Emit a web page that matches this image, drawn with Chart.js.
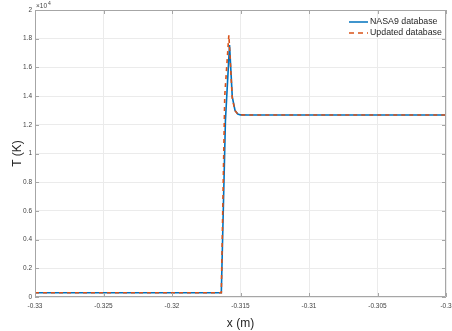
<!DOCTYPE html>
<html>
<head>
<meta charset="utf-8">
<script src="https://cdn.jsdelivr.net/npm/chart.js@4.4.1/dist/chart.umd.min.js"></script>
<style>
  html, body { margin: 0; padding: 0; background: #fff; }
  #chart { display: block; }
</style>
</head>
<body>
<canvas id="chart" width="452" height="331"></canvas>
<script>
// series (x in m, T in K)
const nasaX = [-0.33, -0.3164, -0.3161, -0.3158, -0.3156, -0.3154, -0.3152, -0.3150, -0.3145, -0.30];
const nasaT = [300, 300, 12300, 17550, 13950, 13000, 12750, 12690, 12680, 12680];
const updX = [-0.33, -0.3164, -0.31615, -0.31585, -0.3156, -0.3154, -0.3152, -0.3150, -0.3145, -0.30];
const updT = [300, 300, 14000, 18250, 13850, 12980, 12750, 12690, 12680, 12680];
const xTicks = [-0.33, -0.325, -0.32, -0.315, -0.31, -0.305, -0.3];
const yTicks = [0, 2000, 4000, 6000, 8000, 10000, 12000, 14000, 16000, 18000, 20000];
const seriesNames = ["NASA9 database", "Updated database"];

const blue = "#0072BD";
const orange = "#D95319";
const font = "'Liberation Sans', Arial, sans-serif";

function pts(xs, ys) {
    return xs.map(function (x, i) { return { x: x, y: ys[i] }; });
}

const boxPlugin = {
    id: "box",
    afterDraw: function (chart) {
        const ctx = chart.ctx;
        const a = chart.chartArea;
        const xs = chart.scales.x, ys = chart.scales.y;
        ctx.save();
        ctx.strokeStyle = "#a6a6a6";
        ctx.lineWidth = 1;
        ctx.beginPath();
        ctx.rect(a.left + 0.5, a.top + 0.5, a.right - a.left - 1, a.bottom - a.top - 1);
        ctx.stroke();
        // inward ticks on all four sides
        ctx.beginPath();
        xTicks.forEach(function (t) {
            const px = Math.round(xs.getPixelForValue(t)) + 0.5;
            ctx.moveTo(px, a.bottom); ctx.lineTo(px, a.bottom - 4);
            ctx.moveTo(px, a.top); ctx.lineTo(px, a.top + 4);
        });
        yTicks.forEach(function (t) {
            const py = Math.round(ys.getPixelForValue(t)) + 0.5;
            ctx.moveTo(a.left, py); ctx.lineTo(a.left + 4, py);
            ctx.moveTo(a.right, py); ctx.lineTo(a.right - 4, py);
        });
        ctx.stroke();

        // exponent label
        ctx.fillStyle = "#444";
        ctx.textBaseline = "alphabetic";
        ctx.textAlign = "left";
        ctx.font = "6.5px " + font;
        ctx.fillText("\u00d710", a.left + 1, a.top - 2);
        ctx.font = "5px " + font;
        ctx.fillText("4", a.left + 13, a.top - 5);

        // legend
        ctx.lineWidth = 1.5;
        ctx.strokeStyle = blue;
        ctx.beginPath();
        ctx.moveTo(349, 22); ctx.lineTo(368, 22);
        ctx.stroke();
        ctx.strokeStyle = orange;
        ctx.setLineDash([5, 4]);
        ctx.beginPath();
        ctx.moveTo(349, 33); ctx.lineTo(368, 33);
        ctx.stroke();
        ctx.setLineDash([]);
        ctx.fillStyle = "#262626";
        ctx.font = "8.8px " + font;
        ctx.textBaseline = "middle";
        ctx.fillText(seriesNames[0], 370, 22);
        ctx.fillText(seriesNames[1], 370, 33);
        ctx.restore();
    }
};

const chart = new Chart(document.getElementById("chart").getContext("2d"), {
    type: "scatter",
    data: {
        datasets: [
            {
                label: seriesNames[0],
                data: pts(nasaX, nasaT),
                showLine: true,
                borderColor: blue,
                borderWidth: 1.6,
                pointRadius: 0,
                tension: 0,
                order: 2
            },
            {
                label: seriesNames[1],
                data: pts(updX, updT),
                showLine: true,
                borderColor: orange,
                borderWidth: 1.6,
                borderDash: [4, 4],
                pointRadius: 0,
                tension: 0,
                order: 1
            }
        ]
    },
    options: {
        responsive: false,
        animation: false,
        layout: { padding: { top: 10, right: 6, left: 0, bottom: 0 } },
        plugins: { legend: { display: false }, tooltip: { enabled: false } },
        scales: {
            x: {
                type: "linear",
                min: -0.33,
                max: -0.3,
                afterBuildTicks: function (s) { s.ticks = xTicks.map(function (v) { return { value: v }; }); },
                afterFit: function (s) { s.height = 34; s.paddingLeft = 0; s.paddingRight = 0; },
                border: { display: false },
                grid: { color: "#ebebeb", drawTicks: false },
                ticks: {
                    padding: 5,
                    maxRotation: 0,
                    autoSkip: false,
                    color: "#444",
                    font: { family: font, size: 6.5 },
                    callback: function (v) { return String(parseFloat(v.toFixed(3))); }
                },
                title: {
                    display: true,
                    text: "x (m)",
                    color: "#262626",
                    font: { family: font, size: 12 },
                    padding: { top: 1, bottom: 0 }
                }
            },
            y: {
                min: 0,
                max: 20000,
                afterBuildTicks: function (s) { s.ticks = yTicks.map(function (v) { return { value: v }; }); },
                afterFit: function (s) { s.width = 35; s.paddingTop = 0; s.paddingBottom = 0; },
                border: { display: false },
                grid: { color: "#ebebeb", drawTicks: false },
                ticks: {
                    padding: 3,
                    autoSkip: false,
                    color: "#444",
                    font: { family: font, size: 6.5 },
                    callback: function (v) { return String(Math.round(v / 1000) / 10); }
                },
                title: {
                    display: true,
                    text: "T (K)",
                    color: "#262626",
                    font: { family: font, size: 12 },
                    padding: { top: 10, bottom: 0 }
                }
            }
        }
    },
    plugins: [boxPlugin]
});
</script>
</body>
</html>
